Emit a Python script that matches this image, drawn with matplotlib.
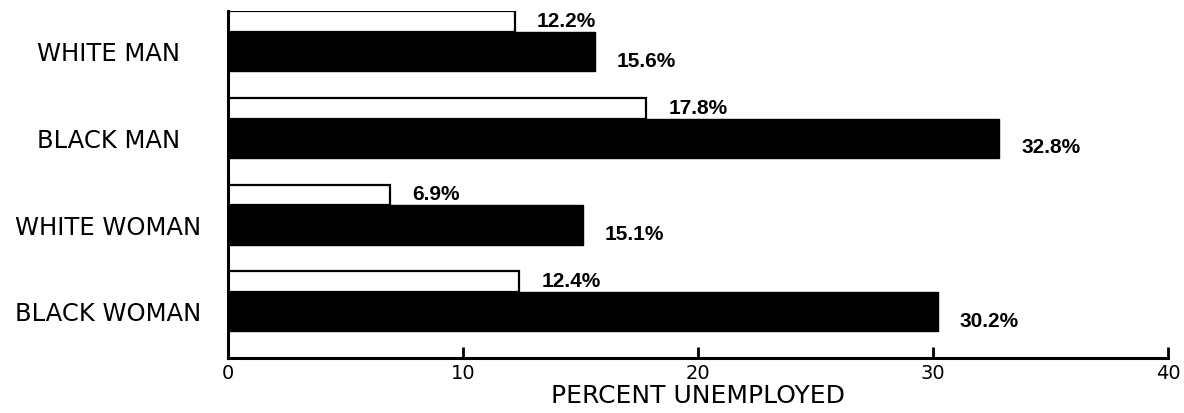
import numpy as np
import matplotlib
matplotlib.use("Agg")
import matplotlib.pyplot as plt

categories = ["WHITE MAN", "BLACK MAN", "WHITE WOMAN", "BLACK WOMAN"]
white_vals = [12.2, 17.8, 6.9, 12.4]
black_vals = [15.6, 32.8, 15.1, 30.2]
x_ticks = [0, 10, 20, 30, 40]
x_label = "PERCENT UNEMPLOYED"

fig = plt.figure(figsize=(11.84, 4.13), dpi=100)
ax = fig.add_axes([228/1184, 1 - 358/413, 940/1184, 347/413])

pos = np.arange(len(categories))
h_white = 0.242
h_black = 0.45
y_white = pos + h_white / 2
y_black = pos + h_white + h_black / 2

ax.barh(y_white, white_vals, height=h_white, color="white", edgecolor="black",
        linewidth=1.6, zorder=2)
ax.barh(y_black, black_vals, height=h_black, color="black", edgecolor="black",
        linewidth=1.0, zorder=2)

val_font = dict(family="Liberation Sans", weight="bold", fontsize=15)
for y, v in zip(y_white, white_vals):
    ax.annotate(f"{v}%", xy=(v, y), xytext=(16, 0), textcoords="offset points",
                ha="left", va="center", **val_font)
for y, v in zip(y_black, black_vals):
    ax.annotate(f"{v}%", xy=(v, y), xytext=(16, -7), textcoords="offset points",
                ha="left", va="center", **val_font)

ax.set_xlim(0, 40)
ax.set_ylim(4.0, 0)
ax.set_xticks(x_ticks)
ax.set_xticklabels([str(t) for t in x_ticks], fontsize=14, family="DejaVu Sans")
ax.tick_params(axis="x", direction="in", length=8, width=2, pad=4)
ax.set_yticks(y_black)
ax.set_yticklabels(categories, fontsize=17.5, family="DejaVu Sans")
for lab in ax.get_yticklabels():
    lab.set_horizontalalignment("center")
ax.tick_params(axis="y", length=0, pad=86)

ax.set_xlabel(x_label, fontsize=18, family="DejaVu Sans", labelpad=1)

for s in ["top", "right"]:
    ax.spines[s].set_visible(False)
for s in ["left", "bottom"]:
    ax.spines[s].set_linewidth(2.2)

fig.savefig("out.png", dpi=100, facecolor="white")
